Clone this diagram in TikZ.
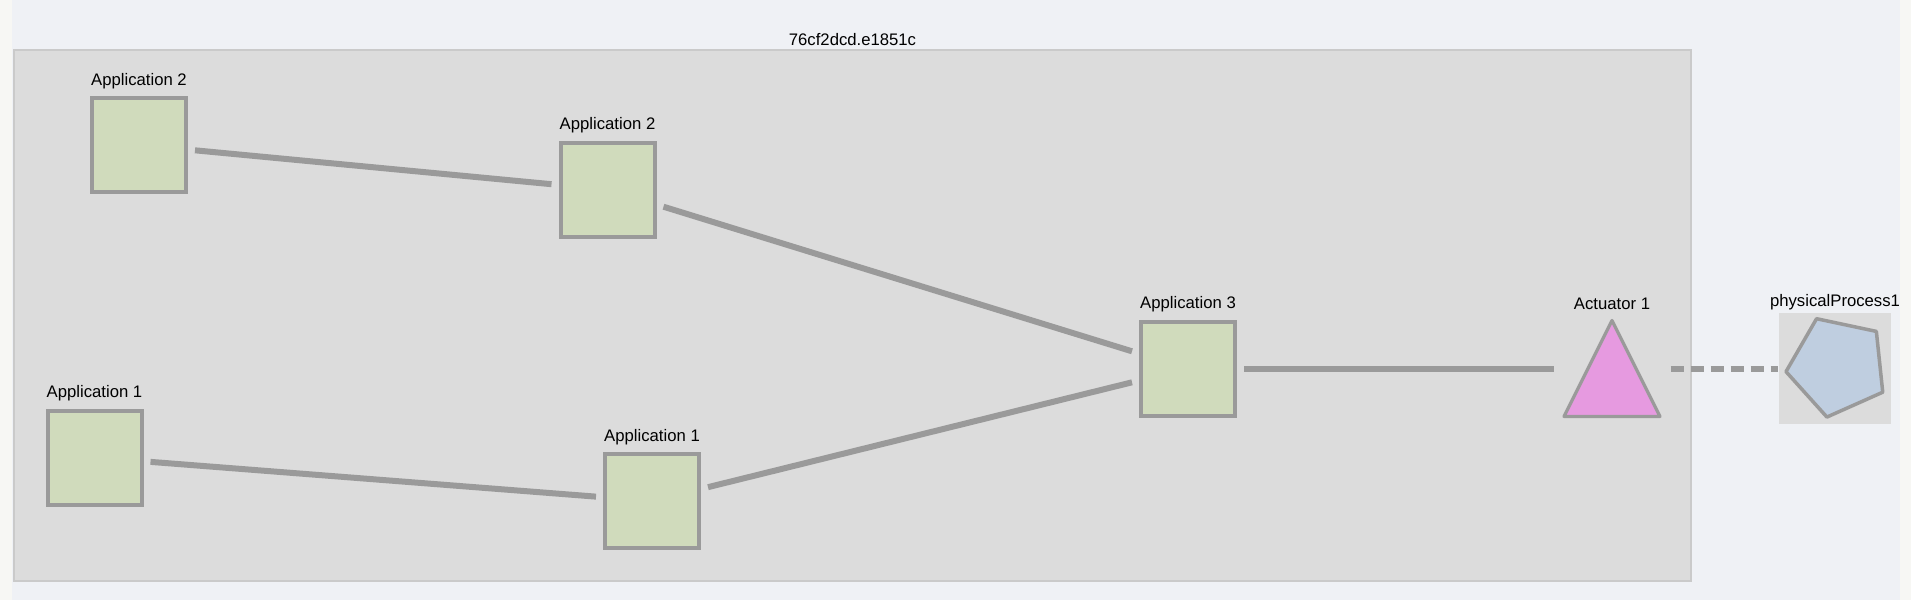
\documentclass[tikz,border=0pt]{standalone}
\usepackage{fontspec}
\setmainfont{Liberation Sans}
\usetikzlibrary{shapes.geometric}
\definecolor{Canvas}{HTML}{EFF1F5}
\definecolor{Margin}{HTML}{F7F7F4}
\definecolor{Group}{HTML}{DCDCDC}
\definecolor{GroupLine}{HTML}{CACACA}
\definecolor{Sage}{HTML}{D0DBBC}
\definecolor{Wire}{HTML}{9A9A9A}
\definecolor{Orchid}{HTML}{E69AE0}
\definecolor{Steel}{HTML}{BFCEE0}
\tikzset{
  caption/.style={anchor=base, inner sep=0pt, font=\fontsize{8.35}{10}\selectfont},
  grpcap/.style={caption, yshift=1.65pt},
  appcap/.style={caption, yshift=2pt},
  actcap/.style={caption, yshift=0.5pt},
  proccap/.style={caption, yshift=2.6pt},
  cluster/.style={
    rectangle, draw=GroupLine, line width=1pt, fill=Group,
    minimum width=838.5pt, minimum height=265.5pt
  },
  app/.style={
    rectangle, draw=Wire, line width=2pt, fill=Sage,
    minimum size=47pt, inner sep=0pt, outer sep=4.5pt
  },
  actuator/.style={
    rectangle, minimum size=50pt, inner sep=0pt, outer sep=4.25pt
  },
  actshape/.style={draw=Wire, fill=Orchid, line width=1.6pt, line join=round},
  process/.style={
    rectangle, fill=Group, minimum width=55.7pt, minimum height=55.4pt,
    inner sep=0pt, outer sep=0.5pt
  },
  procshape/.style={
    regular polygon, regular polygon sides=5, rotate=24, minimum size=52pt,
    inner sep=0pt, draw=Wire, fill=Steel, line width=1.75pt, line join=round
  },
  link/.style={draw=Wire, line width=3pt},
  dashlink/.style={link, dash pattern=on 6.5pt off 3.5pt}
}

\begin{document}
\begin{tikzpicture}[x=0.5pt,y=-0.5pt]
  \useasboundingbox (0,0) rectangle (1911,600);
  \fill[Canvas] (0,0) rectangle (1911,600);
  \fill[Margin] (0,0) rectangle (12,600);
  \fill[Margin] (1900,0) rectangle (1911,600);

  \node[cluster,label={[grpcap]above:76cf2dcd.e1851c}] (grp) at (852.5,315.5) {};

  % applications
  \node[app,label={[appcap]above:Application 2}] (app2a) at (139,145) {};
  \node[app,label={[appcap]above:Application 1}] (app1a) at (94.5,457.5) {};
  \node[app,label={[appcap]above:Application 2}] (app2b) at (607.5,189.5) {};
  \node[app,label={[appcap]above:Application 1}] (app1b) at (652,501) {};
  \node[app,label={[appcap]above:Application 3}] (app3) at (1188,368.5) {};

  % actuator and process
  \node[actuator,label={[actcap]above:Actuator 1}] (act) at (1612,368.5) {};
  \filldraw[actshape] ([yshift=24pt]act.center) -- ([xshift=24pt,yshift=-24pt]act.center)
    -- ([xshift=-24pt,yshift=-24pt]act.center) -- cycle;
  \node[process,label={[proccap]above:physicalProcess1}] (proc) at (1835,368.5) {};
  \node[procshape] (procpoly) at ([xshift=1.35pt,yshift=1.15pt]proc.center) {};

  \draw[link] (app2a) -- (app2b);
  \draw[link] (app2b) -- (app3);
  \draw[link] (app1a) -- (app1b);
  \draw[link] (app1b) -- (app3);
  \draw[link] (app3) -- (act);
  \draw[dashlink] (act) -- (proc);
\end{tikzpicture}
\end{document}
